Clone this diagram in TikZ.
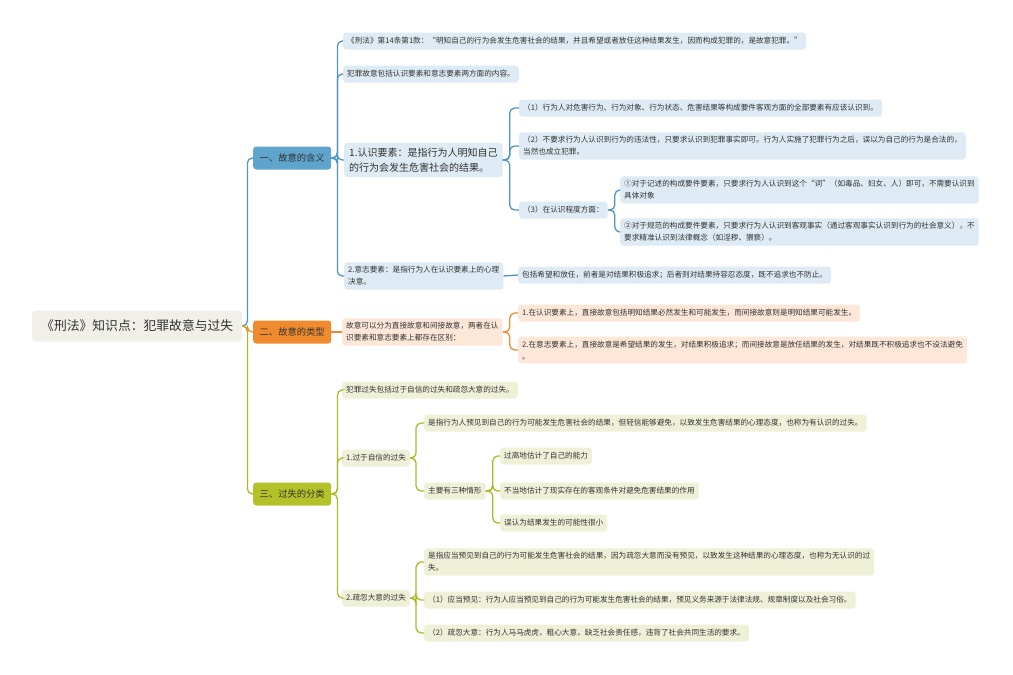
\documentclass[tikz,border=0pt]{standalone}
\usepackage{fontspec}
\newfontfamily\cjkfont{Noto Sans CJK SC}
\usetikzlibrary{positioning}

\definecolor{rootfill}{HTML}{F0EFE8}
\definecolor{inkgray}{HTML}{333333}
\definecolor{blueM}{HTML}{5EA4CC}
\definecolor{blueL}{HTML}{DEEBF4}
\definecolor{blueW}{HTML}{4E96C0}
\definecolor{orangeM}{HTML}{F08A2E}
\definecolor{orangeL}{HTML}{FCE7D8}
\definecolor{orangeW}{HTML}{EC8A35}
\definecolor{greenM}{HTML}{B4C22A}
\definecolor{greenL}{HTML}{EEF0D8}
\definecolor{greenW}{HTML}{AEB92A}

\begin{document}
\begin{tikzpicture}[x=1pt,y=-1pt,
  rootbox/.style={fill=rootfill,rounded corners=3pt,inner xsep=9pt,minimum height=31pt,
    anchor=west,text=inkgray,font=\cjkfont\fontsize{12.8}{15}\selectfont},
  topic/.style={rounded corners=3pt,inner xsep=6pt,minimum height=23pt,minimum width=78pt,
    anchor=west,text=inkgray,font=\cjkfont\fontsize{9.3}{12}\selectfont},
  leaf/.style={rounded corners=3pt,inner xsep=4pt,inner ysep=4pt,minimum height=17pt,
    anchor=west,align=left,text=inkgray,font=\cjkfont\fontsize{7.62}{12}\selectfont},
  bleaf/.style={leaf,fill=blueL},
  oleaf/.style={leaf,fill=orangeL},
  gleaf/.style={leaf,fill=greenL},
  bline/.style={draw=blueW,line width=1.3pt,rounded corners=5pt},
  oline/.style={draw=orangeW,line width=1.3pt,rounded corners=5pt},
  gline/.style={draw=greenW,line width=1.3pt,rounded corners=5pt}]
\useasboundingbox (0,0) rectangle (1013,675);

% root and main topics
\node[rootbox] (root) at (32,326) {《刑法》知识点：犯罪故意与过失};
\node[topic,fill=blueM] (hanyi) at (253,158) {一、故意的含义};
\node[topic,fill=orangeM] (leixing) at (253,332) {二、故意的类型};
\node[topic,fill=greenM] (fenlei) at (253,494) {三、过失的分类};

\draw[bline] (root.east) -- ++(5,0) |- (hanyi.west);
\draw[oline] (root.east) -- ++(5,0) |- (leixing.west);
\draw[gline] (root.east) -- ++(5,0) |- (fenlei.west);

% 一、故意的含义
\node[bleaf] (hy1) at (343,41) {《刑法》第14条第1款：“明知自己的行为会发生危害社会的结果，并且希望或者放任这种结果发生，因而构成犯罪的，是故意犯罪。”};
\node[bleaf] (hy2) at (343,74) {犯罪故意包括认识要素和意志要素两方面的内容。};
\node[bleaf,inner xsep=5pt,inner ysep=5pt,font=\cjkfont\fontsize{10}{15}\selectfont] (hy3) at (344,160) {1.认识要素：是指行为人明知自己\\的行为会发生危害社会的结果。};
\node[bleaf] (hy4) at (344,276) {2.意志要素：是指行为人在认识要素上的心理\\决意。};
\foreach \k in {hy1,hy2,hy3,hy4}
  \draw[bline] (hanyi.east) -- ++(6,0) |- (\k.west);

\node[bleaf] (rs1) at (519,108) {（1）行为人对危害行为、行为对象、行为状态、危害结果等构成要件客观方面的全部要素有应该认识到。};
\node[bleaf] (rs2) at (519,146) {（2）不要求行为人认识到行为的违法性，只要求认识到犯罪事实即可。行为人实施了犯罪行为之后，误以为自己的行为是合法的，\\当然也成立犯罪。};
\node[bleaf] (rs3) at (519,210) {（3）在认识程度方面：};
\foreach \k in {rs1,rs2,rs3}
  \draw[bline] (hy3.east) -- ++(7,0) |- (\k.west);

\node[bleaf] (cd1) at (620,190) {①对于记述的构成要件要素，只要求行为人认识到这个“词”（如毒品、妇女、人）即可，不需要认识到\\具体对象};
\node[bleaf] (cd2) at (620,232) {②对于规范的构成要件要素，只要求行为人认识到客观事实（通过客观事实认识到行为的社会意义），不\\要求精准认识到法律概念（如淫秽、猥亵）。};
\foreach \k in {cd1,cd2}
  \draw[bline] (rs3.east) -- ++(7,0) |- (\k.west);

\node[bleaf] (yz1) at (518,275) {包括希望和放任，前者是对结果积极追求；后者则对结果持容忍态度，既不追求也不防止。};
\draw[bline] (hy4.east) -- (yz1.west);

% 二、故意的类型
\node[oleaf] (lx1) at (342,332) {故意可以分为直接故意和间接故意，两者在认\\识要素和意志要素上都存在区别：};
\draw[oline] (leixing.east) -- (lx1.west);
\node[oleaf] (lx2) at (518,313) {1.在认识要素上，直接故意包括明知结果必然发生和可能发生，而间接故意则是明知结果可能发生。};
\node[oleaf] (lx3) at (518,350) {2.在意志要素上，直接故意是希望结果的发生，对结果积极追求；而间接故意是放任结果的发生，对结果既不积极追求也不设法避免\\。};
\foreach \k in {lx2,lx3}
  \draw[oline] (lx1.east) -- ++(7,0) |- (\k.west);

% 三、过失的分类
\node[gleaf] (fl1) at (342,390) {犯罪过失包括过于自信的过失和疏忽大意的过失。};
\node[gleaf] (fl2) at (342,458) {1.过于自信的过失};
\node[gleaf] (fl3) at (342,598) {2.疏忽大意的过失};
\foreach \k in {fl1,fl2,fl3}
  \draw[gline] (fenlei.east) -- ++(6,0) |- (\k.west);

\node[gleaf] (zx1) at (424,423) {是指行为人预见到自己的行为可能发生危害社会的结果，但轻信能够避免，以致发生危害结果的心理态度，也称为有认识的过失。};
\node[gleaf] (zx2) at (424,491) {主要有三种情形};
\foreach \k in {zx1,zx2}
  \draw[gline] (fl2.east) -- ++(6,0) |- (\k.west);

\node[gleaf] (qx1) at (500,456) {过高地估计了自己的能力};
\node[gleaf] (qx2) at (500,491) {不当地估计了现实存在的客观条件对避免危害结果的作用};
\node[gleaf] (qx3) at (500,523) {误认为结果发生的可能性很小};
\foreach \k in {qx1,qx2,qx3}
  \draw[gline] (zx2.east) -- ++(7,0) |- (\k.west);

\node[gleaf] (sh1) at (424,562) {是指应当预见到自己的行为可能发生危害社会的结果，因为疏忽大意而没有预见，以致发生这种结果的心理态度，也称为无认识的过\\失。};
\node[gleaf] (sh2) at (424,600) {（1）应当预见：行为人应当预见到自己的行为可能发生危害社会的结果，预见义务来源于法律法规、规章制度以及社会习俗。};
\node[gleaf] (sh3) at (424,633) {（2）疏忽大意：行为人马马虎虎，粗心大意，缺乏社会责任感，违背了社会共同生活的要求。};
\foreach \k in {sh1,sh2,sh3}
  \draw[gline] (fl3.east) -- ++(6,0) |- (\k.west);
\end{tikzpicture}
\end{document}
